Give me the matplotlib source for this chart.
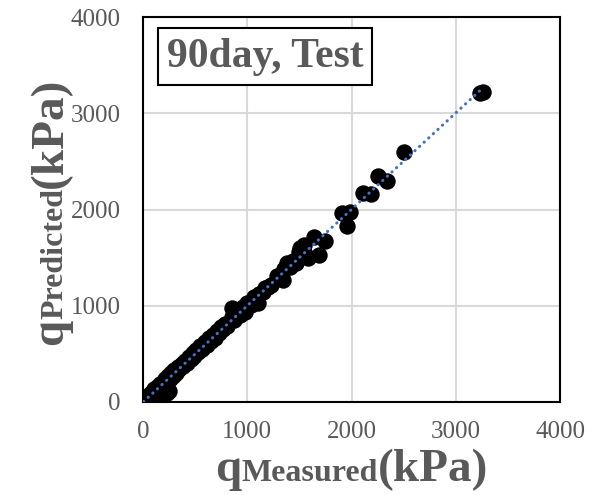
import numpy as np
import matplotlib
matplotlib.use("Agg")
import matplotlib.pyplot as plt

# measured vs predicted (kPa)
measured = [5, 15, 25, 35, 40, 50, 60, 70, 80, 95, 110, 120, 135, 150, 160, 175,
            190, 200, 215, 230, 240, 255, 270, 285, 300, 320, 335, 350, 370, 385,
            400, 420, 440, 460, 475, 490, 510, 530, 550, 570, 590, 610, 630, 650,
            670, 690, 710, 730, 750, 770, 790, 810, 850, 870, 900, 930, 960, 980,
            1000, 1040, 1060, 1090, 1110, 1150, 1175, 1200, 1230, 1290, 1320, 1350,
            1385, 1410, 1440, 1470, 1510, 1540, 1580, 1640, 1685, 1750, 1905, 1960,
            1985, 2115, 2190, 2250, 2340, 2500, 3230, 3265,
            231, 190, 250, 856, 1346, 1106, 1540, 1500]
predicted = [10, 5, 35, 20, 55, 40, 75, 60, 95, 80, 130, 105, 160, 140, 185, 165,
             210, 185, 240, 215, 270, 240, 300, 275, 330, 305, 365, 340, 400, 370,
             430, 405, 470, 445, 505, 480, 540, 515, 580, 555, 620, 595, 660, 635,
             700, 670, 740, 715, 780, 755, 810, 790, 880, 850, 920, 905, 985, 940,
             1030, 1010, 1090, 1070, 1120, 1140, 1185, 1190, 1220, 1310, 1290, 1380,
             1445, 1400, 1470, 1440, 1600, 1560, 1500, 1715, 1530, 1673, 1963, 1825,
             1975, 2171, 2160, 2348, 2296, 2597, 3215, 3220,
             94, 80, 110, 976, 1268, 1029, 1630, 1560]

ticks = [0, 1000, 2000, 3000, 4000]
title_text = "90day, Test"
gray = "#595959"
serif = "Liberation Serif"

fig = plt.figure(figsize=(5.94, 4.95), dpi=100)
ax = fig.add_axes([143 / 594, 1 - 402 / 495, 417 / 594, 385 / 495])

ax.scatter(measured, predicted, s=140, color="black", zorder=3, linewidths=0)

# linear trendline (dotted)
k, b = np.polyfit(measured, predicted, 1)
xs = np.array([min(measured), max(measured)])
ax.plot(xs, k * xs + b, color="#4472C4", lw=2.2, linestyle=(0, (0.1, 1.95)),
        dash_capstyle="round", zorder=4)

ax.set_xlim(0, 4000)
ax.set_ylim(0, 4000)
ax.set_xticks(ticks)
ax.set_yticks(ticks)
ax.grid(True, color="#D9D9D9", lw=1.5, zorder=0)
ax.set_axisbelow(True)
ax.tick_params(length=0, labelsize=18, labelcolor=gray)
ax.tick_params(axis="x", pad=14)
ax.tick_params(axis="y", pad=16)
for lab in ax.get_xticklabels() + ax.get_yticklabels():
    lab.set_family(serif)
for sp in ax.spines.values():
    sp.set_color("black")
    sp.set_linewidth(1.5)

ax.text(0.2926, 0.897, title_text, transform=ax.transAxes, ha="center", va="center",
        fontsize=30, fontweight="bold", color=gray, family=serif,
        bbox=dict(boxstyle="square,pad=0.22", facecolor="white", edgecolor="black", lw=1.5))

# axis labels built from pieces: big q, small subscript word, big (kPa)
renderer = fig.canvas.get_renderer()


def chain_label(parts, center_px, base_px, vertical):
    texts = []
    widths = []
    for s, size in parts:
        t = fig.text(0, 0, s, fontsize=size, fontweight="bold", color=gray, family=serif,
                     ha="left", va="baseline")
        widths.append(t.get_window_extent(renderer).width)
        texts.append(t)
    pos = center_px - sum(widths) / 2
    for t, w in zip(texts, widths):
        if vertical:
            t.set_rotation(90)
            t.set_rotation_mode("anchor")
            t.set_position((base_px / 594, pos / 495))
        else:
            t.set_position((pos / 594, base_px / 495))
        pos += w


chain_label([("q", 34), ("Measured", 23), ("(kPa)", 34)], 352, 495 - 481, False)
chain_label([("q", 34), ("Predicted", 23), ("(kPa)", 34)], 495 - 211, 62, True)

fig.savefig("out.png", dpi=100)
